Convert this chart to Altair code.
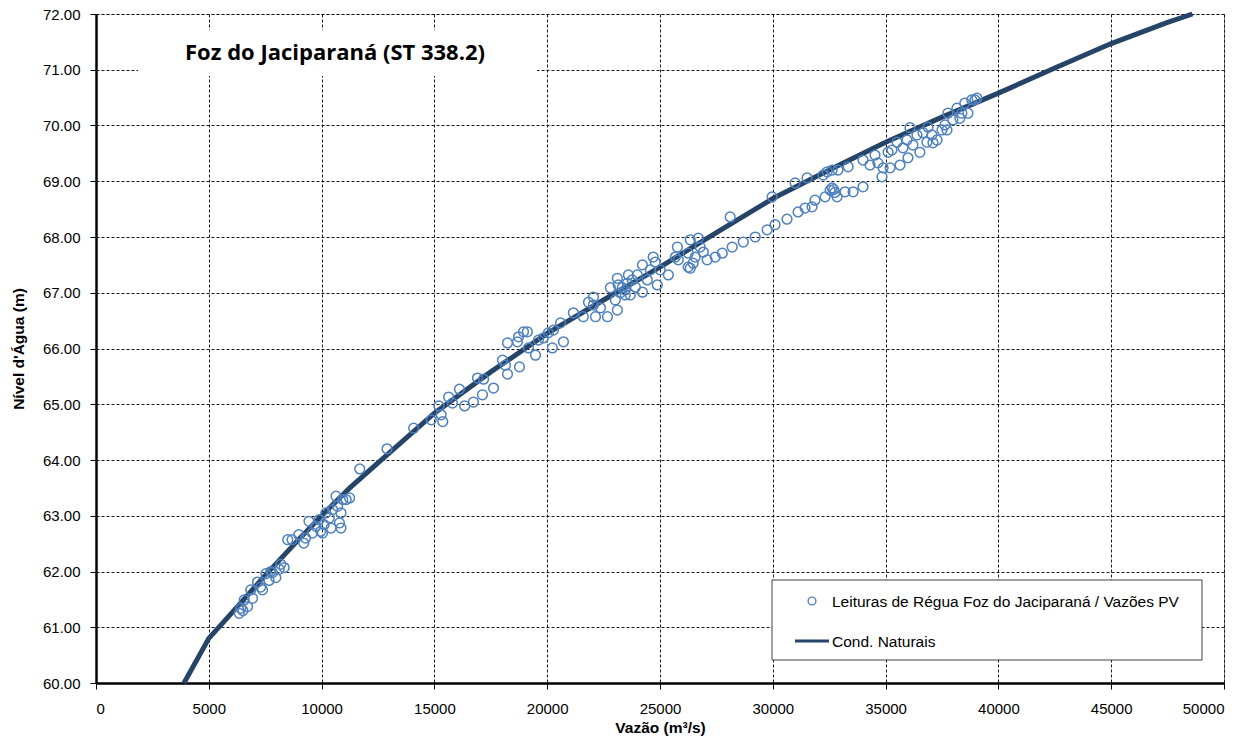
import altair as alt
import pandas as pd

# Observed readings (Leituras de Régua Foz do Jaciparaná / Vazões PV)
Q_obs = [
    6350, 6420, 6720, 6570, 6940, 6860, 7160, 7380, 7530, 7670, 7820, 7970, 8120, 8340, 8190, 6510, 7300, 7750,
    8690, 8990, 9210, 9290, 9440, 9590, 9740, 9890, 9960, 10110, 10190, 10340, 10490, 10640, 10710, 10790,
    10860, 10940, 11090, 11240, 10860, 10420, 10040, 8500,
    11690, 12900, 14080, 14860, 15200, 15300, 15370,
    15630, 15800, 16110, 16340, 16730, 16910, 17130, 17180, 17620, 18020, 18240, 18150, 18240, 18680, 18770,
    18950, 19120, 18730, 19170, 19480, 19610, 19830, 20050, 20230, 20280, 20590, 20720, 21160,
    21600, 22140, 22050, 22050, 22670, 22360, 22800, 23110, 23020, 23110, 23240, 23460, 23460, 23600, 23680,
    23910, 23990, 24220, 24220, 24440, 24570, 24700, 24790, 24880, 25010, 25370, 25680, 25770, 25810, 26340,
    26250, 26250, 26340, 26470, 26560, 26700, 26780, 26920, 27090, 27450, 27760, 28200, 28110, 28690, 29220,
    29750, 29970, 30100, 23330, 23550, 23770, 23150, 21830,
    30630, 31120, 31430, 31740, 31870, 30990, 31520, 32230, 32410, 32630, 32890, 33340, 32320, 32540, 32630,
    32850, 33200, 33560, 34000, 34000, 34310, 34530, 34660, 34840, 34890, 35110, 35280, 35200, 35640, 35510,
    35990, 35950, 36210, 36390, 36520, 36660, 36830, 36880, 37050, 37100, 37280, 37500, 37720, 37760, 37980,
    38160, 38380, 38510, 38650, 38820, 38960, 39050, 35770, 36080, 37630, 38290, 32700, 32750,
]
H_obs = [
    61.25, 61.34, 61.37, 61.49, 61.52, 61.67, 61.81, 61.67, 61.96, 61.84, 61.98, 61.89, 62.04, 62.07, 62.13, 61.30, 61.72, 62.00,
    62.57, 62.66, 62.51, 62.60, 62.90, 62.69, 62.81, 62.93, 62.72, 62.84, 63.05, 62.96, 63.11, 63.35, 63.17, 62.87,
    62.78, 63.29, 63.29, 63.32, 63.05, 62.78, 62.69, 62.57,
    63.84, 64.20, 64.57, 64.72, 64.97, 64.81, 64.69,
    65.13, 65.02, 65.27, 64.97, 65.04, 65.47, 65.17, 65.45, 65.29, 65.79, 65.54, 65.70, 66.10, 66.12, 65.67,
    66.30, 66.30, 66.21, 66.01, 65.88, 66.15, 66.19, 66.28, 66.01, 66.33, 66.46, 66.12, 66.64,
    66.57, 66.57, 66.92, 66.78, 66.57, 66.73, 67.09, 67.26, 66.87, 66.69, 67.00, 67.05, 66.96, 67.32, 66.96,
    67.10, 67.32, 67.01, 67.50, 67.23, 67.41, 67.64, 67.55, 67.14, 67.41, 67.32, 67.64, 67.82, 67.59, 67.95,
    67.71, 67.46, 67.44, 67.53, 67.64, 67.98, 67.82, 67.73, 67.59, 67.64, 67.71, 67.82, 68.36, 67.91, 68.00,
    68.13, 68.72, 68.22, 67.09, 67.17, 67.23, 67.14, 66.83,
    68.32, 68.45, 68.52, 68.54, 68.66, 68.97, 69.06, 69.11, 69.17, 69.20, 69.20, 69.26, 68.72, 68.84, 68.88,
    68.72, 68.81, 68.81, 68.90, 69.38, 69.29, 69.47, 69.33, 69.08, 69.24, 69.52, 69.56, 69.24, 69.29, 69.70,
    69.42, 69.74, 69.65, 69.83, 69.52, 69.87, 69.70, 69.97, 69.83, 69.69, 69.74, 69.92, 69.92, 70.22, 70.10,
    70.31, 70.22, 70.40, 70.22, 70.46, 70.46, 70.49, 69.60, 69.96, 70.01, 70.13, 68.85, 68.80,
]

# Rating curve (Cond. Naturais)
Q_curve = [3900, 5000, 6000, 7500, 9000, 10000, 11250, 12500, 15000, 17500, 20000, 22500,
           25000, 27500, 30000, 32500, 35000, 37500, 40000, 42500, 45000, 47500, 48600]
H_curve = [60.00, 60.80, 61.25, 61.93, 62.58, 63.00, 63.50, 63.95, 64.84, 65.58, 66.27, 66.87,
           67.46, 68.08, 68.69, 69.20, 69.70, 70.15, 70.58, 71.03, 71.47, 71.85, 72.00]

x_ticks = list(range(0, 50001, 5000))
y_ticks = list(range(60, 73))

chart_title = "Foz do Jaciparaná  (ST 338.2)"
legend_obs = "Leituras de Régua  Foz do Jaciparaná / Vazões PV"
legend_curve = "Cond. Naturais"

obs = pd.DataFrame({"Q": Q_obs, "H": H_obs})
curve = pd.DataFrame({"Q": Q_curve, "H": H_curve})
one = pd.DataFrame({"t": [chart_title]})
lg1 = pd.DataFrame({"t": [legend_obs]})
lg2 = pd.DataFrame({"t": [legend_curve]})

W, H = 1128, 669
LINE_COLOR = "#254468"
PT_COLOR = "#4F81BD"
FONT = "Liberation Sans"

xscale = alt.Scale(domain=[0, 50000], nice=False)
yscale = alt.Scale(domain=[60, 72], nice=False)

x_axis = alt.Axis(values=x_ticks, format="d", title="Vazão (m³/s)", titleFont=FONT,
                  titleFontSize=15.5, titleFontWeight="bold", titleX=W / 2, titleY=44,
                  titleBaseline="middle", labelPadding=12)
y_axis = alt.Axis(values=y_ticks, format=".2f", title="Nível d'Água (m)", titleFont=FONT,
                  titleFontSize=15.5, titleFontWeight="bold", titleX=-78, titleY=H / 2,
                  titleBaseline="middle", titleAngle=-90, labelPadding=10)

line = alt.Chart(curve).mark_line(color=LINE_COLOR, strokeWidth=5).encode(
    x=alt.X("Q:Q", scale=xscale, axis=x_axis),
    y=alt.Y("H:Q", scale=yscale, axis=y_axis),
    order="Q:Q",
)

pts = alt.Chart(obs).mark_point(shape="circle", filled=False, color=PT_COLOR, size=95,
                                strokeWidth=1.5, opacity=1).encode(
    x="Q:Q", y="H:Q",
)

title_box = alt.Chart(one).mark_rect(color="white").encode(
    x=alt.value(42), x2=alt.value(441), y=alt.value(16), y2=alt.value(62)
)
title_txt = alt.Chart(one).mark_text(font="Open Sans", fontSize=22, fontWeight="bold", color="black",
                                     align="center", baseline="middle").encode(
    x=alt.value(239), y=alt.value(39), text="t:N"
)

leg_box = alt.Chart(one).mark_rect(fill="white", stroke="#404040", strokeWidth=1).encode(
    x=alt.value(676), x2=alt.value(1106), y=alt.value(566), y2=alt.value(646)
)
leg_pt = alt.Chart(one).mark_point(shape="circle", filled=False, color=PT_COLOR, size=60,
                                   strokeWidth=1.4, opacity=1).encode(
    x=alt.value(716), y=alt.value(587)
)
leg_t1 = alt.Chart(lg1).mark_text(font=FONT, fontSize=15.5, color="black", align="left",
                                  baseline="middle").encode(
    x=alt.value(736), y=alt.value(588), text="t:N"
)
leg_line = alt.Chart(one).mark_rule(color=LINE_COLOR, strokeWidth=3).encode(
    x=alt.value(699), x2=alt.value(733), y=alt.value(627)
)
leg_t2 = alt.Chart(lg2).mark_text(font=FONT, fontSize=15.5, color="black", align="left",
                                  baseline="middle").encode(
    x=alt.value(736), y=alt.value(628), text="t:N"
)

chart = alt.layer(
    line, pts, title_box, title_txt, leg_box, leg_pt, leg_t1, leg_line, leg_t2
).properties(
    width=W, height=H,
    autosize=alt.AutoSizeParams(type="none"),
    padding={"left": 88, "top": 6, "right": 26, "bottom": 58},
).configure_view(
    stroke="#808080", strokeDash=[3, 2], strokeWidth=1
).configure_axis(
    labelFont=FONT, labelFontSize=15, labelColor="black",
    grid=True, gridColor="black", gridDash=[3, 2], gridWidth=1, gridOpacity=0.9,
    domainColor="black", domainWidth=2.5,
    tickColor="black", tickSize=6, tickWidth=1,
    titleColor="black", zindex=0,
)

chart.save("out.html", embed_options={"renderer": "svg", "actions": False})
